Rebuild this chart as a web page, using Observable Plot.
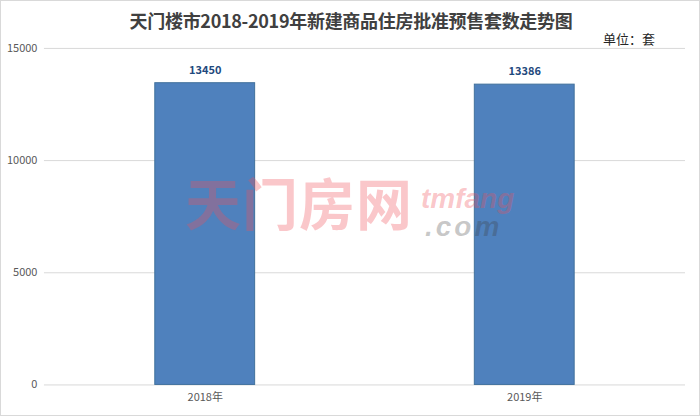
<!DOCTYPE html>
<html><head><meta charset="utf-8">
<script src="https://cdn.jsdelivr.net/npm/d3@7"></script>
<script src="https://cdn.jsdelivr.net/npm/@observablehq/plot@0.6"></script>
<style>
html,body{margin:0;padding:0;background:#fff;}
#wrap{position:relative;width:698px;height:414px;border:1px solid #d9d9d9;overflow:hidden;font-family:"Noto Sans CJK SC","Noto Sans",sans-serif;}
#title{position:absolute;left:0;top:6px;width:700px;text-align:center;font-size:18px;font-weight:bold;color:#404040;letter-spacing:-0.3px;}
#unit{position:absolute;left:602px;top:28px;font-size:13px;color:#262626;}
#chart{position:absolute;left:-1px;top:-1px;}
.wm{position:absolute;pointer-events:none;line-height:1;}
</style></head>
<body>
<div id="wrap">
<div id="chart"></div>
<div id="title">天门楼市2018-2019年新建商品住房批准预售套数走势图</div>
<div id="unit">单位：套</div>
<div class="wm" style="left:184px;top:172px;font-size:56px;font-weight:bold;color:rgba(240,80,90,0.32);letter-spacing:1px;font-family:'Noto Sans CJK SC';">天门房网</div>
<div class="wm" style="left:420px;top:184px;font-size:28px;font-weight:bold;font-style:italic;color:rgba(240,80,90,0.32);font-family:'Liberation Sans';">tmfang</div>
<div class="wm" style="left:424px;top:212px;font-size:28px;font-weight:bold;font-style:italic;color:rgba(60,60,60,0.28);letter-spacing:3px;font-family:'Liberation Sans';">.com</div>
</div>
<script>
const years = ["2018年", "2019年"];
const counts = [13450, 13386];
const yTicks = [0, 5000, 10000, 15000];
const data = years.map((y, i) => ({year: y, value: counts[i]}));
const chart = Plot.plot({
  width: 700, height: 416,
  marginTop: 48, marginBottom: 31, marginLeft: 44, marginRight: 14,
  style: {fontFamily: "'Noto Sans CJK SC','Noto Sans',sans-serif", background: "transparent"},
  x: {domain: years, paddingInner: 0.688, paddingOuter: 0.345, label: null},
  y: {domain: [0, 15000], label: null},
  marks: [
    Plot.gridY(yTicks, {stroke: "#d9d9d9", strokeOpacity: 1, strokeWidth: 1}),
    Plot.barY(data, {x: "year", y: "value", fill: "#4f81bd", stroke: "#41719c", strokeWidth: 1}),
    Plot.text(data, {x: "year", y: "value", text: d => String(d.value), dy: -13, fill: "#1f497d", fontWeight: "bold", fontSize: 11}),
    Plot.axisY({ticks: yTicks, tickFormat: d => String(d), tickSize: 0, tickPadding: 7, fontSize: 11, color: "#595959"}),
    Plot.axisX({tickSize: 0, tickPadding: 8, fontSize: 11, color: "#595959"})
  ]
});
document.getElementById("chart").appendChild(chart);
</script>
</body></html>
